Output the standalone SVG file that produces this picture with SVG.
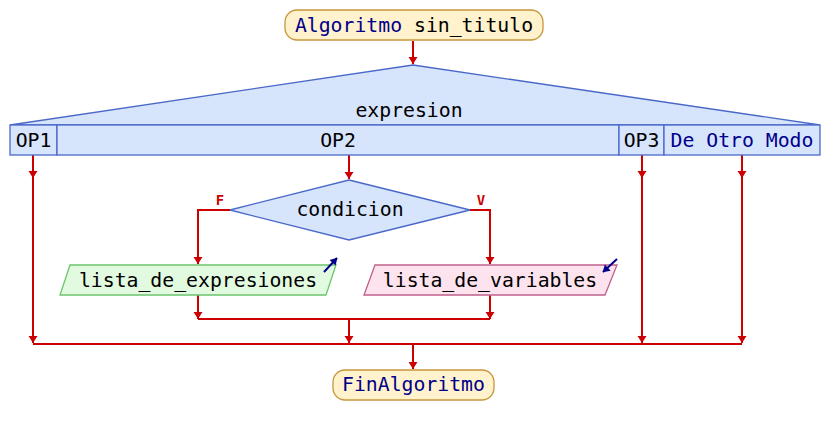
<svg xmlns="http://www.w3.org/2000/svg" width="828" height="435" viewBox="0 0 828 435">
<style>
text{font-family:"DejaVu Sans Mono","Liberation Mono",monospace;font-size:19.8px}
.term{fill:#fff2cc;stroke:#c8963c;stroke-width:1.3}
.blue{fill:#d6e4fc;stroke:#4a68c8;stroke-width:1.3}
.in{fill:#e2fae0;stroke:#6cc46c;stroke-width:1.3}
.out{fill:#fde3ee;stroke:#c0608c;stroke-width:1.3}
.kw{fill:#00008b}
.lbl{fill:#cc0000;font-size:14px;font-weight:bold}
.c{fill:none;stroke:#cc0000;stroke-width:2}
.ic{fill:none;stroke:#00008b;stroke-width:2}
</style>
<defs>
<marker id="ah" markerUnits="userSpaceOnUse" markerWidth="10" markerHeight="10" viewBox="0 -5 8 10" refX="7" refY="0" orient="auto">
<path d="M0,-4.5 L7,0 L0,4.5 z" fill="#cc0000"/>
</marker>
<marker id="ib" markerUnits="userSpaceOnUse" markerWidth="9" markerHeight="9" viewBox="0 -4.5 7 9" refX="6.5" refY="0" orient="auto">
<path d="M0,-4.2 L7,0 L0,4.2 z" fill="#00008b"/>
</marker>
</defs>
<g id="connectors">
<path class="c" d="M413,41 V64" marker-end="url(#ah)"/>
<path class="c" d="M33,155 V178" marker-end="url(#ah)"/>
<path class="c" d="M33,178 V343" marker-end="url(#ah)"/>
<path class="c" d="M349,155 V179" marker-end="url(#ah)"/>
<path class="c" d="M642,155 V178" marker-end="url(#ah)"/>
<path class="c" d="M642,178 V343" marker-end="url(#ah)"/>
<path class="c" d="M742,155 V178" marker-end="url(#ah)"/>
<path class="c" d="M742,178 V343" marker-end="url(#ah)"/>
<path class="c" d="M230,210 H198 V264" marker-end="url(#ah)"/>
<path class="c" d="M470,210 H490 V264" marker-end="url(#ah)"/>
<path class="c" d="M198,295 V319" marker-end="url(#ah)"/>
<path class="c" d="M490,295 V319" marker-end="url(#ah)"/>
<path class="c" d="M198,319 H490"/>
<path class="c" d="M349,319 V343" marker-end="url(#ah)"/>
<path class="c" d="M33,344 H742"/>
<path class="c" d="M413,344 V369" marker-end="url(#ah)"/>
<text class="lbl" x="220" y="205" text-anchor="middle">F</text>
<text class="lbl" x="481" y="205" text-anchor="middle">V</text>
</g>
<g id="start">
<rect class="term" x="285" y="10" width="258" height="30" rx="12"/>
<text x="414" y="32" text-anchor="middle"><tspan class="kw">Algoritmo</tspan> sin_titulo</text>
</g>
<g id="segun">
<polygon class="blue" points="413,65 820,125 10,125"/>
<text x="409" y="117" text-anchor="middle">expresion</text>
<rect class="blue" x="10" y="125" width="47" height="30"/>
<rect class="blue" x="57" y="125" width="562" height="30"/>
<rect class="blue" x="619" y="125" width="45" height="30"/>
<rect class="blue" x="664" y="125" width="156" height="30"/>
<text x="33.5" y="147" text-anchor="middle">OP1</text>
<text x="338" y="147" text-anchor="middle">OP2</text>
<text x="641.5" y="147" text-anchor="middle">OP3</text>
<text class="kw" x="742" y="147" text-anchor="middle">De Otro Modo</text>
</g>
<g id="cond">
<polygon class="blue" points="349,180 470,210 349,240 230,210"/>
<text x="350" y="216" text-anchor="middle">condicion</text>
</g>
<g id="leer">
<polygon class="in" points="70,265 336,265 326,295 60,295"/>
<text x="198" y="287" text-anchor="middle">lista_de_expresiones</text>
<path class="ic" d="M324,272 L337,258" marker-end="url(#ib)"/>
</g>
<g id="escribir">
<polygon class="out" points="375,265 617,265 605,295 364,295"/>
<text x="490" y="287" text-anchor="middle">lista_de_variables</text>
<path class="ic" d="M617,259 L603,272" marker-end="url(#ib)"/>
</g>
<g id="end">
<rect class="term" x="333" y="370" width="161" height="30" rx="12"/>
<text class="kw" x="413.5" y="391" text-anchor="middle">FinAlgoritmo</text>
</g>
</svg>
